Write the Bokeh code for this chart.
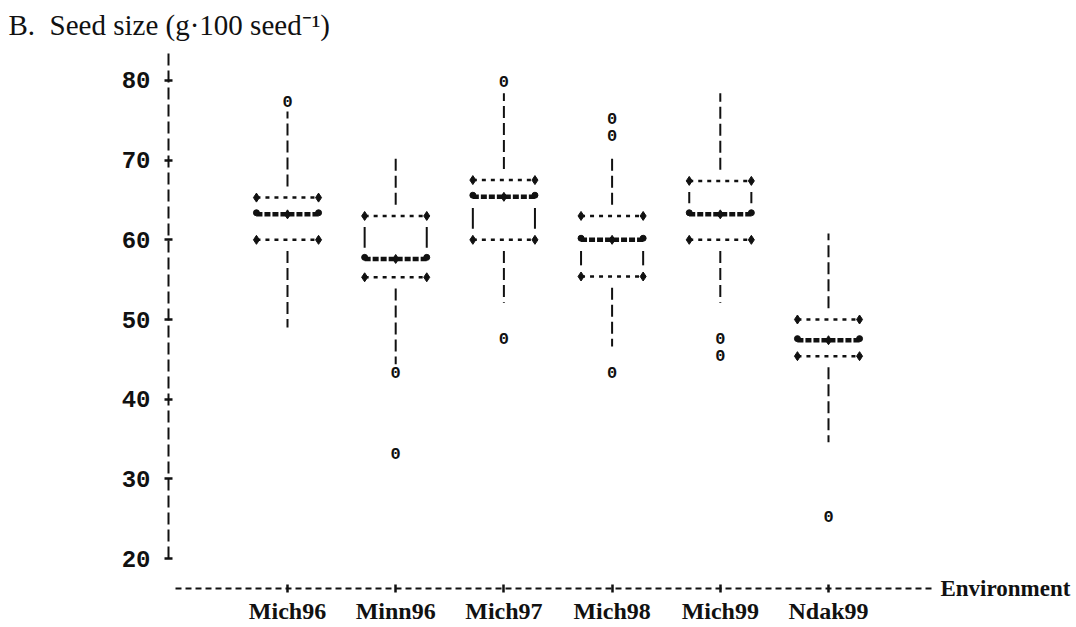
from bokeh.plotting import figure
from bokeh.models import Range1d, FixedTicker
from bokeh.embed import file_html
from bokeh.resources import INLINE
from bokeh.core.properties import value

# ---- data ----
cats = ["Mich96", "Minn96", "Mich97", "Mich98", "Mich99", "Ndak99"]
q1 = [60.0, 55.3, 60.0, 55.4, 60.0, 45.4]
median = [63.2, 57.6, 65.4, 60.0, 63.2, 47.4]
q3 = [65.3, 63.0, 67.5, 63.0, 67.4, 50.0]
whisker_low = [49.0, 44.4, 52.1, 46.6, 52.1, 34.6]
whisker_high = [76.1, 70.8, 78.4, 70.3, 78.4, 60.8]
out_cat = ["Mich96", "Minn96", "Minn96", "Mich97", "Mich97", "Mich98",
           "Mich98", "Mich98", "Mich99", "Mich99", "Ndak99"]
out_val = [77.4, 43.3, 33.2, 79.9, 47.6, 75.2, 73.1, 43.3, 47.6, 45.5, 25.3]
y_ticks = [20, 30, 40, 50, 60, 70, 80]
title_text = "B.\u00a0 Seed size (g\u00b7100 seed\u207b\u00b9)"
xlabel_text = "Environment"

# ---- layout / style ----
HW = 0.287          # half box width (category units)
GAP = 1.4           # gap between box line and whisker start (data units)
BLACK = "#111111"
X_AXIS_AT = 16.234  # y position of the category axis line
Y_AXIS_AT = -1.0998 # x position of the value axis line

p = figure(width=1076, height=627,
           x_range=Range1d(-2.6525, 7.2921), y_range=Range1d(11.343, 90.041),
           output_backend="svg", toolbar_location=None,
           min_border_left=0, min_border_right=0,
           min_border_top=0, min_border_bottom=0)
p.title.visible = False
p.xgrid.grid_line_color = None
p.ygrid.grid_line_color = None
p.outline_line_color = None

xs = list(range(len(cats)))

# value axis
ya = p.yaxis[0]
ya.fixed_location = Y_AXIS_AT
ya.ticker = FixedTicker(ticks=y_ticks)
ya.bounds = (20, 83.4)
ya.axis_line_dash = "12 5"
ya.axis_line_width = 2
ya.axis_line_color = BLACK
ya.major_tick_in = 4
ya.major_tick_out = 4
ya.major_tick_line_width = 2.5
ya.major_tick_line_color = BLACK
ya.minor_tick_line_color = None
ya.major_label_text_font = "Liberation Mono"
ya.major_label_text_font_style = "bold"
ya.major_label_text_font_size = "24px"
ya.major_label_text_color = BLACK
ya.major_label_standoff = 14

# category axis
xa = p.xaxis[0]
xa.fixed_location = X_AXIS_AT
xa.ticker = FixedTicker(ticks=xs)
xa.major_label_overrides = {i: c for i, c in zip(xs, cats)}
xa.bounds = (-1.035, 5.989)
xa.axis_line_dash = "6 4"
xa.axis_line_width = 2
xa.axis_line_color = BLACK
xa.major_tick_in = 4
xa.major_tick_out = 4
xa.major_tick_line_width = 2.5
xa.major_tick_line_color = BLACK
xa.minor_tick_line_color = None
xa.major_label_text_font = "Liberation Serif"
xa.major_label_text_font_style = "bold"
xa.major_label_text_font_size = "24px"
xa.major_label_text_color = BLACK
xa.major_label_standoff = 5

# box horizontal lines (Q1, Q3)
left = [x - HW for x in xs]
right = [x + HW for x in xs]
for qv in (q1, q3):
    p.segment(x0=left, y0=qv, x1=right, y1=qv, line_dash="4 5",
              line_width=2.5, line_color=BLACK)
    p.scatter(x=left + right, y=qv + qv, marker="diamond", size=9,
              color=BLACK)

# median line
p.segment(x0=left, y0=median, x1=right, y1=median, line_dash="6 2",
          line_width=4.5, line_color=BLACK)
p.scatter(x=left + right, y=[m + 0.2 for m in median] * 2, marker="circle",
          size=6, color=BLACK)
p.scatter(x=xs, y=median, marker="diamond", size=9, color=BLACK)

# box sides, printed only where the gap between lines is wide enough
sx, sy0, sy1 = [], [], []
for i, x in enumerate(xs):
    for lo, hi in ((q1[i], median[i]), (median[i], q3[i])):
        if hi - lo > 3.5:
            for xx in (x - HW, x + HW):
                sx.append(xx)
                sy0.append(lo + GAP)
                sy1.append(hi - GAP)
p.segment(x0=sx, y0=sy0, x1=sx, y1=sy1, line_width=2, line_color=BLACK)

# whiskers
p.segment(x0=xs, y0=[v + GAP for v in q3], x1=xs, y1=whisker_high,
          line_dash="12 5", line_width=2, line_color=BLACK)
p.segment(x0=xs, y0=[v - GAP for v in q1], x1=xs, y1=whisker_low,
          line_dash="12 5", line_width=2, line_color=BLACK)

# outliers printed as "0"
out_x = [cats.index(c) for c in out_cat]
p.text(x=out_x, y=out_val, text=["0"] * len(out_val),
       text_font=value("Liberation Mono"), text_font_style="bold",
       text_font_size="17px", text_align="center", text_baseline="middle",
       text_color=BLACK)

# panel title (top left) and axis name at the end of the category axis
p.text(x=[-2.5786], y=[87.0], text=[title_text],
       text_font=value("Liberation Serif"), text_font_size="29px",
       text_align="left", text_baseline="alphabetic", text_color=BLACK)
p.text(x=[6.035], y=[X_AXIS_AT], text=[xlabel_text],
       text_font=value("Liberation Serif"), text_font_style="bold",
       text_font_size="23px", text_align="left", text_baseline="middle",
       text_color=BLACK)

open("out.html", "w").write(file_html(p, INLINE))
